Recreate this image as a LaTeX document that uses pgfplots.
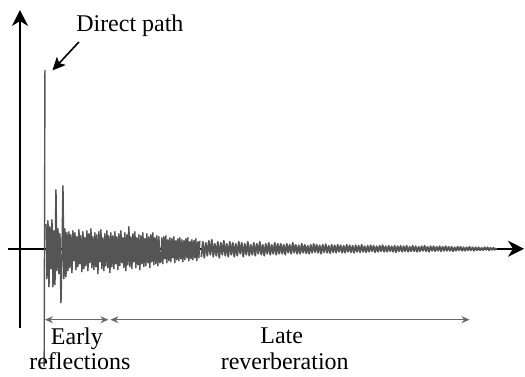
\documentclass[border=0pt]{standalone}
\usepackage{pgfplots}
\pgfplotsset{compat=1.18}
\usepackage{pgfplotstable}
\usetikzlibrary{arrows.meta}
\usepackage{fontspec}
\setmainfont{Liberation Serif}
\definecolor{sig}{RGB}{85,85,85}
\definecolor{ann}{RGB}{105,105,105}
\newcommand\lblfont{\fontsize{12pt}{12pt}\selectfont}

% impulse response, part A: x = 46,47,...,200
\pgfplotstableread[row sep=\\, header=false]{
25\\ -30\\ 28\\ -38\\ 22\\ -20\\ 29\\ -38\\ 18\\ -36\\ 59\\ -22\\ 20\\ -25\\ 15\\ -54\\ -10\\ 63\\ -30\\ 20\\ -28\\ 16\\
-22\\ 17\\ -19\\ 14\\ -24\\ 18\\ -12\\ 16\\ -21\\ 12\\ -18\\ 19\\ -15\\ 13\\ -23\\ 17\\ -20\\ 11\\ -17\\ 18\\ -22\\ 15\\ -14\\ 20\\ -19\\ 12\\ -21\\ 16\\ -18\\ 14\\ -25\\ 17\\ -13\\ 19\\ -20\\ 11\\ -22\\ 15\\ -17\\ 18\\ -19\\ 13\\ -24\\
16\\ -18\\ 13\\ -20\\ 17\\ -15\\ 12\\ -21\\ 15\\ -17\\ 18\\ -14\\ 11\\ -19\\ 16\\ -22\\ 14\\ -16\\ 22\\ -18\\ 12\\ -20\\ 15\\ -13\\ 17\\ -19\\ 11\\ -16\\ 14\\ -21\\ 13\\ -15\\ 16\\ -18\\ 10\\ -17\\ 15\\ -14\\ 12\\ -19\\ 14\\ -13\\ 16\\ -16\\ 11\\ -15\\ 13\\ -17\\ 12\\ -14\\
-13\\ 11\\ -15\\ 12\\ -10\\ 13\\ -14\\ 9\\ -12\\ 11\\ -13\\ 10\\ -9\\ 12\\ -14\\ 8\\ -11\\ 10\\ -12\\ 11\\ -10\\ 9\\ -13\\ 8\\ -11\\ 10\\ -9\\ 11\\ -12\\ 7\\ -10\\ 9\\ -11\\ 8\\ -9\\ 10\\ -12\\ 7\\ -9\\ 8\\
}\partA

% part B: x = 201.5, 203, ..., 497
\pgfplotstableread[row sep=\\, header=false]{
-8\\ 7\\ -9\\ 6\\ -7\\ 8\\ -6\\ 9\\ -8\\ 5\\ -7\\ 7\\ -9\\ 6\\ -6\\ 8\\ -7\\ 5\\ -8\\ 7\\
-6\\ 6\\ -8\\ 5\\ -7\\ 7\\ -5\\ 6\\ -8\\ 5\\ -6\\ 7\\ -7\\ 4\\ -6\\ 6\\ -7\\ 5\\ -5\\ 7\\
-6\\ 4\\ -7\\ 5\\ -5\\ 6\\ -6\\ 4\\ -5\\ 6\\ -6\\ 5\\ -5\\
5\\ -5\\ 4\\ -6\\ 5\\ -4\\ 4\\ -5\\ 6\\ -4\\ 4\\ -5\\ 3.5\\ -5\\ 5\\ -4\\ 4\\ -4.5\\ 3\\ -5\\
4\\ -4\\ 5\\ -3.5\\ 4\\ -4\\ 3.5\\ -5\\ 4\\ -3.5\\ 4.5\\ -4\\ 3\\ -4.5\\ 4\\ -3.5\\ 3.5\\ -4\\ 4\\ -3\\
3.5\\ -4\\ 3\\ -4\\ 4\\ -3\\ 3.5\\
-3.5\\ 3\\ -4\\ 3.5\\ -3\\ 3\\ -3.5\\ 4\\ -3\\ 2.5\\ -3.5\\ 3\\ -3\\ 3.5\\ -2.5\\ 3\\ -3.5\\ 2.5\\ -3\\ 3\\
-2.5\\ 3.5\\ -3\\ 2.5\\ -3\\ 3\\ -2.5\\ 2.5\\ -3\\ 3\\ -3.5\\ 2.5\\ -2.5\\ 3\\ -3\\ 2.5\\ -2.5\\ 3\\ -3\\ 2\\
-2.5\\ 3\\ -2.5\\ 2.5\\ -3\\ 2\\ -2.5\\ 2.5\\ -2\\ 3\\ -2.5\\ 2\\ -3\\ 2.5\\ -2\\ 2.5\\ -2.5\\ 2\\ -2\\ 2.5\\
-2.5\\ 2\\ -2\\ 2.5\\ -2\\ 2\\
-2\\ 2\\ -2.5\\ 1.5\\ -2\\ 2\\ -1.5\\ 2\\ -2\\ 1.5\\ -2\\ 1.5\\ -1.5\\ 2\\ -1.5\\ 1.5\\ -2\\ 1.5\\ -1.5\\ 1.5\\
-1.5\\ 1\\ -1.5\\ 1.5\\ -1\\ 1.5\\ -1.5\\ 1\\ -1\\ 1\\ -1\\ 0.5\\
}\partB

\begin{document}
\begin{tikzpicture}
\begin{axis}[
  x=0.5pt, y=0.5pt,
  xmin=0, xmax=525, ymin=-124, ymax=249,
  hide axis, clip=false,
]
\path (axis cs:0,-124) rectangle (axis cs:525,249);
% axes
\draw[line width=1pt,-{Stealth[length=8pt,width=8pt,inset=2.5pt]}] (axis cs:20,-79) -- (axis cs:20,239);
\draw[line width=1pt,-{Stealth[length=8pt,width=8pt,inset=2.5pt]}] (axis cs:8,0) -- (axis cs:524.5,0);
% signal
\addplot[sig, line width=0.7pt] coordinates {(44.2,-118) (45,179)};
\addplot[sig, line width=0.75pt, line join=round] table[x expr=46+\coordindex, y index=0] {\partA};
\addplot[sig, line width=0.9pt, line join=round] table[x expr=201.5+1.5*\coordindex, y index=0] {\partB};
% annotations
\draw[line width=0.8pt,-{Stealth[length=6.5pt,width=6pt,inset=1.5pt]}] (axis cs:79,207) -- (axis cs:52.5,178.5);
\node[anchor=base, font=\lblfont] at (axis cs:130,217) {Direct path};
\draw[ann, line width=0.6pt,{Stealth[length=4pt,width=3.5pt]}-{Stealth[length=4pt,width=3.5pt]}] (axis cs:45,-71) -- (axis cs:108.5,-71);
\draw[ann, line width=0.6pt,{Stealth[length=4pt,width=3.5pt]}-{Stealth[length=4pt,width=3.5pt]}] (axis cs:110.5,-71) -- (axis cs:470,-71);
\node[anchor=base, font=\lblfont] at (axis cs:77,-96) {Early};
\node[anchor=base, font=\lblfont] at (axis cs:80,-121) {reflections};
\node[anchor=base, font=\lblfont] at (axis cs:282,-95) {Late};
\node[anchor=base, font=\lblfont] at (axis cs:285,-121) {reverberation};
\end{axis}
\end{tikzpicture}
\end{document}
